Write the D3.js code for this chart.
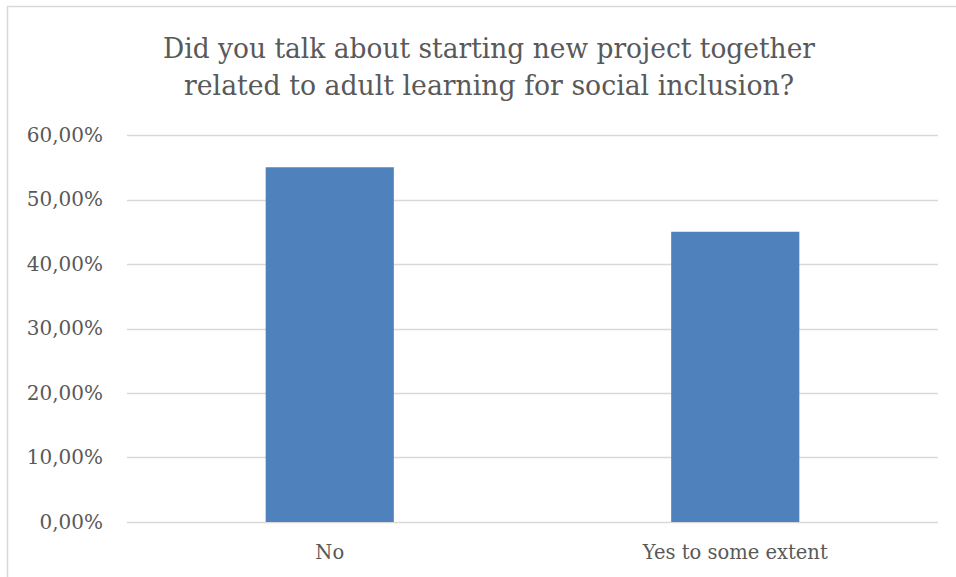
<!DOCTYPE html>
<html>
<head>
<meta charset="utf-8">
<script src="https://cdn.jsdelivr.net/npm/d3@7"></script>
<style>
  html, body { margin: 0; padding: 0; background: #fff; }
  svg { display: block; }
</style>
</head>
<body>
<svg id="chart" width="956" height="577"></svg>
<script>
const titleLines = [
  "Did you talk about starting new project together",
  "related to adult learning for social inclusion?"
];
const categories = ["No", "Yes to some extent"];
const values = [0.55, 0.45];
const yTicks = [0, 0.1, 0.2, 0.3, 0.4, 0.5, 0.6];

const W = 956, H = 577;
const margin = { left: 127, right: 18, top: 135, bottom: 55 };
const FONT = "'DejaVu Serif', 'Liberation Serif', serif";
const svg = d3.select("#chart");

// chart frame (only left and top edges visible)
svg.append("path")
  .attr("d", `M7.5,${H} L7.5,6.5 L${W},6.5`)
  .attr("fill", "none")
  .attr("stroke", "#d9d9d9")
  .attr("stroke-width", 1.5);

const x = d3.scaleBand()
  .domain(categories)
  .range([margin.left, W - margin.right])
  .paddingInner(0.684)
  .paddingOuter(0.342);

const y = d3.scaleLinear()
  .domain([0, 0.6])
  .range([H - margin.bottom, margin.top]);

const fmt = v => d3.format(".2f")(v * 100).replace(".", ",") + "%";

// gridlines
svg.append("g")
  .selectAll("line")
  .data(yTicks)
  .join("line")
  .attr("x1", margin.left)
  .attr("x2", W - margin.right)
  .attr("y1", d => Math.round(y(d)) + 0.5)
  .attr("y2", d => Math.round(y(d)) + 0.5)
  .attr("stroke", "#d9d9d9")
  .attr("stroke-width", 1.5);

// bars
svg.append("g")
  .selectAll("rect")
  .data(categories)
  .join("rect")
  .attr("x", d => x(d))
  .attr("width", x.bandwidth())
  .attr("y", (d, i) => y(values[i]))
  .attr("height", (d, i) => y(0) - y(values[i]))
  .attr("fill", "#4f81bd");

// y axis labels
const yAxis = d3.axisLeft(y).tickValues(yTicks).tickFormat(fmt).tickSize(0).tickPadding(24);
const gy = svg.append("g")
  .attr("transform", `translate(${margin.left},0)`)
  .call(yAxis);
gy.select(".domain").remove();
gy.selectAll("text")
  .attr("font-family", FONT)
  .attr("font-size", 20)
  .attr("fill", "#595959");

// x axis labels
const xAxis = d3.axisBottom(x).tickSize(0).tickPadding(23);
const gx = svg.append("g")
  .attr("transform", `translate(0,${y(0)})`)
  .call(xAxis);
gx.select(".domain").remove();
gx.selectAll("text")
  .attr("font-family", FONT)
  .attr("font-size", 19.5)
  .attr("fill", "#595959");

// title
const titleWidths = [652, 610];
svg.append("g")
  .selectAll("text")
  .data(titleLines)
  .join("text")
  .attr("x", 489)
  .attr("y", (d, i) => 58 + i * 37)
  .attr("text-anchor", "middle")
  .attr("font-family", FONT)
  .attr("font-size", 28.5)
  .attr("fill", "#595959")
  .attr("textLength", (d, i) => titleWidths[i])
  .attr("lengthAdjust", "spacingAndGlyphs")
  .text(d => d);
</script>
</body>
</html>
